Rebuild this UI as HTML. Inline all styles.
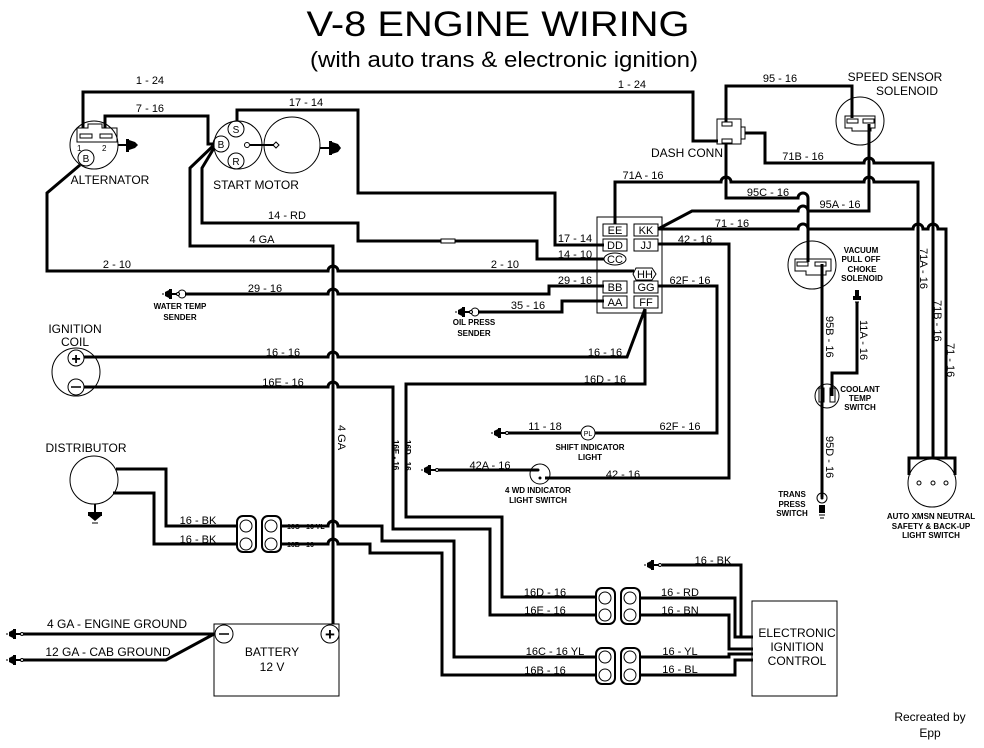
<!DOCTYPE html>
<html><head><meta charset="utf-8"><style>
html,body{margin:0;padding:0;background:#fff}
svg{display:block}
text{font-family:"Liberation Sans",sans-serif;fill:#000}
.w{fill:none;stroke:#000;stroke-width:3;stroke-linejoin:miter}
.t{fill:none;stroke:#000;stroke-width:1}
.l{font-size:11px}
.s{font-size:8px;font-weight:bold}
.m{font-size:12px}
</style></head><body>
<svg width="984" height="748" viewBox="0 0 984 748" xmlns="http://www.w3.org/2000/svg">
<defs>
<g id="gl"><line x1="0" y1="0" x2="-6" y2="0" stroke="#000" stroke-width="2"/><rect x="-9" y="-5" width="3" height="10"/><polygon points="-9,-4 -13,-2 -13,2 -9,4"/><line x1="-15" y1="-1" x2="-15" y2="1" stroke="#000"/><circle cx="0" cy="0" r="1.5" fill="#fff" stroke="#000"/></g>
<g id="conn"><rect x="0" y="0" width="19" height="36" rx="6" fill="#fff" stroke="#000" stroke-width="2"/></g>
</defs>
<text x="498" y="36" font-size="35" text-anchor="middle" textLength="383" lengthAdjust="spacingAndGlyphs">V-8 ENGINE WIRING</text>
<text x="504" y="67" font-size="22" text-anchor="middle" textLength="388" lengthAdjust="spacingAndGlyphs">(with auto trans &amp; electronic ignition)</text>

<!-- Alternator -->
<circle class="t" cx="94" cy="145" r="24"/>
<path class="t" d="M77,128 H88 V124 H102 V128 H117 V142 H77 Z" fill="#fff"/>
<rect class="t" x="80" y="134" width="12" height="4"/><rect class="t" x="100" y="134" width="12" height="4"/>
<text x="77" y="151" font-size="8">1</text><text x="102" y="151" font-size="8">2</text>
<circle class="t" cx="86" cy="158" r="8"/><text x="86" y="162" font-size="10" text-anchor="middle">B</text>
<line x1="118" y1="145" x2="126" y2="145" stroke="#000" stroke-width="2"/><rect x="126" y="139" width="3" height="13"/><polygon points="129,140 135,142 138,145 135,148 129,150"/>
<text x="110" y="184" class="m" text-anchor="middle">ALTERNATOR</text>

<!-- Start motor -->
<circle class="t" cx="238" cy="145" r="24"/>
<circle class="t" cx="292" cy="145" r="28"/>
<circle class="t" cx="236" cy="129" r="8"/><text x="236" y="133" font-size="10" text-anchor="middle">S</text>
<circle class="t" cx="221" cy="144" r="8"/><text x="221" y="148" font-size="10" text-anchor="middle">B</text>
<circle class="t" cx="236" cy="161" r="8"/><text x="236" y="165" font-size="10" text-anchor="middle">R</text>
<circle class="t" cx="247" cy="145" r="2.5"/><line x1="250" y1="145" x2="274" y2="145" stroke="#000" stroke-width="2"/><polygon class="t" points="276,142 279,145 276,148 273,145"/>
<line x1="320" y1="148" x2="329" y2="148" stroke="#000" stroke-width="2"/><rect x="329" y="141" width="3" height="14"/><polygon points="332,142 338,144 341,148 338,152 332,154"/>
<text x="256" y="189" class="m" text-anchor="middle">START MOTOR</text>

<!-- Wires top-left -->
<path class="w" d="M83,128 V92 H693 V141 H718"/>
<path class="w" d="M105,128 V116 H208 V144 H214"/>
<path class="w" d="M237,121 V110 H358 V193 H555 V245 H604"/>
<path class="w" d="M214,148 L202,168 V223 H358 V241 H537 V259 H604"/>
<rect x="441" y="239" width="14" height="4" fill="#fff" stroke="#000"/>
<path class="w" d="M213,146 L190,168 V246 H333 V624"/>
<path class="w" d="M80,165 L47,193 V271 H328 a5,5 0 0 1 10,0 H634"/>
<path class="w" d="M185,294 H328 a5,5 0 0 1 10,0 H549 V286 H604"/>
<path class="w" d="M478,312 H562 V301 H604"/>
<path class="w" d="M84,357 H328 a5,5 0 0 1 10,0 H627 L645,309"/>
<path class="w" d="M84,387 H328 a5,5 0 0 1 10,0 H393 V529 H490 V615 H599"/>
<path class="w" d="M645,309 V384 H406 V517 H502 V597 H599"/>

<!-- labels -->
<g class="l">
<text x="150" y="84" text-anchor="middle">1 - 24</text>
<text x="632" y="88" text-anchor="middle">1 - 24</text>
<text x="150" y="112" text-anchor="middle">7 - 16</text>
<text x="306" y="106" text-anchor="middle">17 - 14</text>
<text x="287" y="219" text-anchor="middle">14 - RD</text>
<text x="262" y="243" text-anchor="middle">4 GA</text>
<text x="117" y="268" text-anchor="middle">2 - 10</text>
<text x="505" y="268" text-anchor="middle">2 - 10</text>
<text x="265" y="292" text-anchor="middle">29 - 16</text>
<text x="283" y="356" text-anchor="middle">16 - 16</text>
<text x="283" y="386" text-anchor="middle">16E - 16</text>
<text x="605" y="356" text-anchor="middle">16 - 16</text>
<text x="605" y="383" text-anchor="middle">16D - 16</text>
<text x="575" y="242" text-anchor="middle">17 - 14</text>
<text x="575" y="258" text-anchor="middle">14 - 10</text>
<text x="575" y="284" text-anchor="middle">29 - 16</text>
<text x="528" y="309" text-anchor="middle">35 - 16</text>
<text x="695" y="243" text-anchor="middle">42 - 16</text>
<text x="690" y="284" text-anchor="middle">62F - 16</text>
<text x="643" y="179" text-anchor="middle">71A - 16</text>
<text x="780" y="82" text-anchor="middle">95 - 16</text>
<text x="803" y="160" text-anchor="middle">71B - 16</text>
<text x="768" y="196" text-anchor="middle">95C - 16</text>
<text x="840" y="208" text-anchor="middle">95A - 16</text>
<text x="732" y="227" text-anchor="middle">71 - 16</text>
<text x="545" y="430" text-anchor="middle">11 - 18</text>
<text x="680" y="430" text-anchor="middle">62F - 16</text>
<text x="490" y="469" text-anchor="middle">42A - 16</text>
<text x="623" y="478" text-anchor="middle">42 - 16</text>
<text x="198" y="524" text-anchor="middle">16 - BK</text>
<text x="198" y="543" text-anchor="middle">16 - BK</text>
<text x="545" y="596" text-anchor="middle">16D - 16</text>
<text x="545" y="614" text-anchor="middle">16E - 16</text>
<text x="555" y="655" text-anchor="middle">16C - 16 YL</text>
<text x="545" y="674" text-anchor="middle">16B - 16</text>
<text x="680" y="596" text-anchor="middle">16 - RD</text>
<text x="680" y="614" text-anchor="middle">16 - BN</text>
<text x="680" y="655" text-anchor="middle">16 - YL</text>
<text x="680" y="673" text-anchor="middle">16 - BL</text>
<text x="713" y="564" text-anchor="middle">16 - BK</text>
<text transform="translate(338,425) rotate(90)">4 GA</text>
<text transform="translate(826,316) rotate(90)">95B - 16</text>
<text transform="translate(860,320) rotate(90)">11A - 16</text>
<text transform="translate(920,248) rotate(90)">71A - 16</text>
<text transform="translate(934,300) rotate(90)">71B - 16</text>
<text transform="translate(947,343) rotate(90)">71 - 16</text>
<text transform="translate(826,436) rotate(90)">95D - 16</text>
</g>
<text x="287" y="529" font-size="7" font-weight="bold">16C - 16 YL</text>
<text x="287" y="547" font-size="7" font-weight="bold">16B - 16</text>
<text transform="translate(393,440) rotate(90)" font-size="8" font-weight="bold">16E - 16</text>
<text transform="translate(405,440) rotate(90)" font-size="8" font-weight="bold">16D - 16</text>

<!-- water temp & oil press senders -->
<circle class="t" cx="182" cy="294" r="4"/><use href="#gl" x="178" y="294"/>
<text x="180" y="309" class="s" text-anchor="middle">WATER TEMP</text><text x="180" y="320" class="s" text-anchor="middle">SENDER</text>
<circle class="t" cx="475" cy="312" r="4"/><use href="#gl" x="471" y="312"/>
<text x="474" y="325" class="s" text-anchor="middle">OIL PRESS</text><text x="474" y="336" class="s" text-anchor="middle">SENDER</text>

<!-- Ignition coil -->
<text x="75" y="333" class="m" text-anchor="middle">IGNITION</text><text x="75" y="346" class="m" text-anchor="middle">COIL</text>
<circle class="t" cx="76" cy="372" r="24"/>
<circle class="t" cx="76" cy="358" r="8" fill="#fff"/><text x="76" y="364" font-size="16" text-anchor="middle" font-weight="bold">+</text>
<circle class="t" cx="76" cy="387" r="8" fill="#fff"/><line x1="71" y1="387" x2="81" y2="387" stroke="#000" stroke-width="1.5"/>

<!-- Connector block -->
<rect class="t" x="597" y="217" width="65" height="96"/>
<g class="t"><rect x="603" y="224" width="24" height="12"/><rect x="634" y="224" width="24" height="12"/>
<rect x="603" y="239" width="24" height="12"/><rect x="634" y="239" width="24" height="12"/>
<rect x="603" y="281" width="24" height="12"/><rect x="634" y="281" width="24" height="12"/>
<rect x="603" y="296" width="24" height="12"/><rect x="634" y="296" width="24" height="12"/>
<ellipse cx="615" cy="259" rx="11" ry="6"/><polygon points="636,268 652,268 656,274 652,280 636,280 633,274"/></g>
<g font-size="11" text-anchor="middle"><text x="615" y="234">EE</text><text x="646" y="234">KK</text><text x="615" y="249">DD</text><text x="646" y="249">JJ</text><text x="615" y="263">CC</text><text x="645" y="278">HH</text><text x="615" y="291">BB</text><text x="646" y="291">GG</text><text x="615" y="306">AA</text><text x="646" y="306">FF</text></g>

<!-- Dash conn & right top -->
<rect class="t" x="717" y="119" width="24" height="25"/><rect class="t" x="741" y="127" width="4" height="12"/>
<rect class="t" x="722" y="122" width="10" height="4"/><rect class="t" x="722" y="139" width="10" height="4"/>
<text x="687" y="157" class="m" text-anchor="middle">DASH CONN</text>
<path class="w" d="M726,122 V86 H852 V118"/>
<path class="w" d="M726,144 V198 H798 a5,5 0 0 1 10,0 V262"/>
<path class="w" d="M745,133 H765 V163 H864 a5,5 0 0 1 10,0 H933 V458"/>
<path class="w" d="M615,224 V182 H721 a5,5 0 0 1 10,0 H864 a5,5 0 0 1 10,0 H918 V458"/>
<path class="w" d="M869,124 V211 H808 a5,5 0 0 0 -10,0 H692 L658,229"/>
<path class="w" d="M658,229 H798 a5,5 0 0 1 10,0 H913 a5,5 0 0 1 10,0 H928 a5,5 0 0 1 10,0 H946 V458"/>
<!-- speed sensor -->
<circle class="t" cx="860" cy="121" r="24"/>
<path class="t" d="M845,116 H875 V128 H871 V131 H852 V128 H845 Z" fill="#fff"/>
<rect class="t" x="847" y="119" width="11" height="4"/><rect class="t" x="863" y="119" width="11" height="4"/>
<text x="895" y="81" class="m" text-anchor="middle">SPEED SENSOR</text><text x="907" y="95" class="m" text-anchor="middle">SOLENOID</text>
<!-- vacuum -->
<circle class="t" cx="812" cy="265" r="24"/>
<path class="t" d="M795,259 H831 V271 H826 V275 H806 V271 H795 Z" fill="#fff"/>
<rect class="t" x="797" y="262" width="11" height="4"/><rect class="t" x="815" y="262" width="11" height="4"/>
<g class="s" text-anchor="middle"><text x="861" y="253">VACUUM</text><text x="861" y="262">PULL OFF</text><text x="862" y="272">CHOKE</text><text x="862" y="281">SOLENOID</text></g>
<path class="w" d="M822,264 V497"/>
<path class="w" d="M832,396 V373 H857 V302"/>
<rect x="855" y="290" width="4" height="6"/><rect x="853" y="296" width="8" height="4"/><line x1="855" y1="302" x2="859" y2="302" stroke="#000"/>
<!-- coolant -->
<circle class="t" cx="827" cy="396" r="12"/>
<rect class="t" x="819" y="388" width="5" height="14" fill="#fff"/><rect class="t" x="830" y="388" width="5" height="14" fill="#fff"/>
<g class="s" text-anchor="middle"><text x="860" y="392">COOLANT</text><text x="860" y="401">TEMP</text><text x="860" y="410">SWITCH</text></g>
<!-- trans press -->
<circle class="t" cx="822" cy="498" r="5" fill="#fff"/><circle cx="822" cy="498" r="1.5"/>
<rect x="819" y="505" width="6" height="8"/><line x1="819" y1="515" x2="825" y2="515" stroke="#000"/><line x1="820" y1="518" x2="824" y2="518" stroke="#000"/>
<g class="s" text-anchor="middle"><text x="792" y="497">TRANS</text><text x="792" y="507">PRESS</text><text x="792" y="516">SWITCH</text></g>
<!-- auto xmsn -->
<circle class="t" cx="932" cy="483" r="24"/>
<path class="w" d="M909,475 V458 H955 V475"/>
<circle class="t" cx="919" cy="483" r="2" fill="#fff"/><circle class="t" cx="933" cy="483" r="2" fill="#fff"/><circle class="t" cx="946" cy="483" r="2" fill="#fff"/>
<g class="s" text-anchor="middle"><text x="931" y="519">AUTO XMSN NEUTRAL</text><text x="931" y="529">SAFETY &amp; BACK-UP</text><text x="931" y="538">LIGHT SWITCH</text></g>

<!-- 42 & 62F -->
<path class="w" d="M658,244 H729 V478 H545"/>
<path class="w" d="M658,286 H717 V433 H595"/>
<path class="w" d="M507,433 H581"/><use href="#gl" x="507" y="433"/>
<circle class="t" cx="588" cy="433" r="7" fill="#fff"/><text x="588" y="436" font-size="7" text-anchor="middle">PL</text>
<g class="s" text-anchor="middle"><text x="590" y="450">SHIFT INDICATOR</text><text x="590" y="460">LIGHT</text></g>
<path class="w" d="M437,470 H538"/><use href="#gl" x="437" y="470"/>
<circle class="t" cx="540" cy="474" r="10" fill="#fff"/><circle cx="538" cy="470" r="1.5"/><circle cx="540" cy="478" r="1.5"/>
<g class="s" text-anchor="middle"><text x="538" y="493">4 WD INDICATOR</text><text x="538" y="503">LIGHT SWITCH</text></g>

<!-- Distributor -->
<text x="86" y="452" class="m" text-anchor="middle">DISTRIBUTOR</text>
<circle class="t" cx="94" cy="480" r="24"/>
<line x1="95" y1="504" x2="95" y2="512" stroke="#000" stroke-width="2"/><rect x="88" y="512" width="14" height="4"/><polygon points="89,516 101,516 95,521"/><line x1="92" y1="523" x2="98" y2="523" stroke="#000"/>
<path class="w" d="M116,469 H166 V526 H238"/>
<path class="w" d="M113,493 H154 V544 H238"/>
<path class="w" d="M281,526 H328 a5,5 0 0 1 10,0 H382 V541 H454 V657 H598"/>
<path class="w" d="M281,544 H328 a5,5 0 0 1 10,0 H370 V553 H442 V675 H598"/>
<use href="#conn" x="237" y="516"/><use href="#conn" x="262" y="516"/>
<circle class="t" cx="246" cy="526" r="6" fill="#ddd"/><circle class="t" cx="246" cy="544" r="6"/>
<circle class="t" cx="271" cy="526" r="6"/><circle class="t" cx="271" cy="544" r="6" fill="#ddd"/>

<!-- lower connectors -->
<use href="#conn" x="596" y="588"/><use href="#conn" x="621" y="588"/>
<use href="#conn" x="596" y="648"/><use href="#conn" x="621" y="648"/>
<circle class="t" cx="605" cy="598" r="6"/><circle class="t" cx="605" cy="615" r="6" fill="#ddd"/>
<circle class="t" cx="630" cy="598" r="6" fill="#ddd"/><circle class="t" cx="630" cy="615" r="6"/>
<circle class="t" cx="605" cy="657" r="6"/><circle class="t" cx="605" cy="675" r="6" fill="#ddd"/>
<circle class="t" cx="630" cy="657" r="6" fill="#ddd"/><circle class="t" cx="630" cy="675" r="6"/>
<path class="w" d="M640,598 H735 V637 H753"/>
<path class="w" d="M640,615 H729 V649 H753"/>
<path class="w" d="M640,657 H729 V654 H753"/>
<path class="w" d="M640,675 H735 V660 H753"/>
<path class="w" d="M662,565 H741 V637"/><use href="#gl" x="660" y="565"/>
<rect class="t" x="752" y="601" width="85" height="95"/>
<g class="m" text-anchor="middle"><text x="797" y="637">ELECTRONIC</text><text x="797" y="651">IGNITION</text><text x="797" y="665">CONTROL</text></g>

<!-- Battery -->
<rect class="t" x="214" y="624" width="125" height="72"/>
<circle class="t" cx="224" cy="634" r="9" fill="#fff"/><line x1="219" y1="634" x2="229" y2="634" stroke="#000" stroke-width="1.5"/>
<circle class="t" cx="330" cy="634" r="9" fill="#fff"/><text x="330" y="640" font-size="17" text-anchor="middle" font-weight="bold">+</text>
<text x="272" y="656" class="m" text-anchor="middle">BATTERY</text><text x="272" y="671" class="m" text-anchor="middle">12 V</text>
<path class="w" d="M22,634 H214"/><path class="w" d="M22,660 H166 L214,634"/>
<use href="#gl" x="22" y="634"/><use href="#gl" x="22" y="660"/>
<text x="117" y="628" class="m" text-anchor="middle">4 GA - ENGINE GROUND</text>
<text x="108" y="656" class="m" text-anchor="middle">12 GA - CAB GROUND</text>

<text x="930" y="721" class="m" text-anchor="middle">Recreated by</text><text x="930" y="737" class="m" text-anchor="middle">Epp</text>
</svg>
</body></html>
